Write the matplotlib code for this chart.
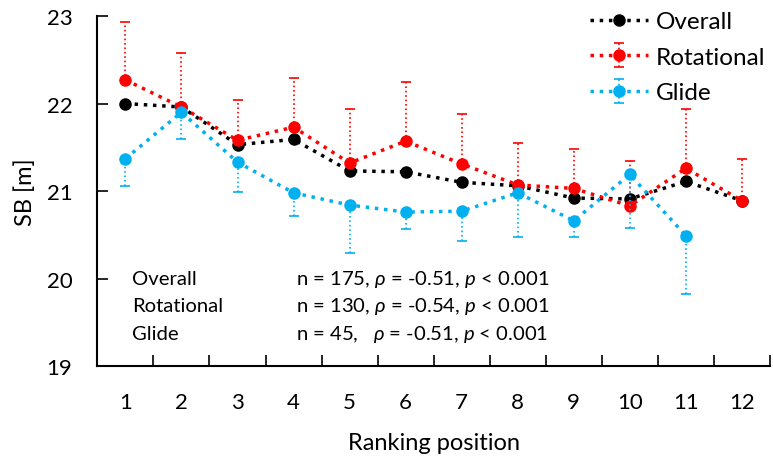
import numpy as np
import matplotlib
matplotlib.use("Agg")
import matplotlib.pyplot as plt

plt.rcParams['font.family'] = ['Lato', 'DejaVu Sans']
plt.rcParams['mathtext.fontset'] = 'custom'
plt.rcParams['mathtext.rm'] = 'Lato'
plt.rcParams['mathtext.it'] = 'Lato:italic'

positions = np.arange(1, 13)

overall = [22.00, 21.96, 21.53, 21.59, 21.23, 21.22, 21.10, 21.06, 20.92, 20.91, 21.11, 20.89]

rotational = [22.27, 21.96, 21.58, 21.73, 21.32, 21.57, 21.31, 21.07, 21.03, 20.83, 21.26, 20.89]
rotational_top = [22.93, 22.58, 22.04, 22.29, 21.94, 22.25, 21.88, 21.55, 21.48, 21.34, 21.94, 21.37]

glide = [21.37, 21.90, 21.33, 20.98, 20.84, 20.76, 20.77, 20.98, 20.66, 21.19, 20.49]
glide_bottom = [21.06, 21.59, 20.99, 20.71, 20.29, 20.57, 20.43, 20.47, 20.47, 20.58, 19.82]

stats_names = ["Overall", "Rotational", "Glide"]
stats_text = [r"n = 175, $\rho$ = -0.51, $p$ < 0.001",
              r"n = 130, $\rho$ = -0.54, $p$ < 0.001",
              r"n = 45,   $\rho$ = -0.51, $p$ < 0.001"]

fig = plt.figure(figsize=(7.73, 4.6), dpi=100)
ax = fig.add_axes([0.126, 0.202, 0.870, 0.761])

black = "#000000"
red = "#FF0000"
blue = "#00B0F0"

ax.plot(positions, overall, linestyle=':', color=black, lw=2.5, marker='o', ms=8, label="Overall", zorder=3)

r = np.array(rotational)
eb = ax.errorbar(positions, r, yerr=[np.zeros_like(r), np.array(rotational_top) - r],
                 linestyle=':', color=red, lw=2.5, marker='o', ms=8, ecolor=red,
                 elinewidth=1.2, capsize=3.5, capthick=1.2, label="Rotational", zorder=4)
eb[2][0].set_linestyle(':')

g = np.array(glide)
gx = positions[:len(glide)]
eb = ax.errorbar(gx, g, yerr=[g - np.array(glide_bottom), np.zeros_like(g)],
                 linestyle=':', color=blue, lw=2.5, marker='o', ms=8, ecolor=blue,
                 elinewidth=1.2, capsize=3.5, capthick=1.2, label="Glide", zorder=5)
eb[2][0].set_linestyle(':')

ax.set_xlim(0.5, 12.5)
ax.set_ylim(19, 23)
ax.set_yticks([19, 20, 21, 22, 23])
ax.set_xticks(positions)
ax.set_xticks(np.arange(0.5, 13, 1), minor=True)
ax.tick_params(axis='x', which='major', length=0, labelsize=16, pad=19)
ax.tick_params(axis='x', which='minor', length=8, width=1.2, direction='in')
ax.tick_params(axis='y', length=8, width=1.2, direction='in', labelsize=16, pad=18)

for s in ['top', 'right']:
    ax.spines[s].set_visible(False)
for s in ['left', 'bottom']:
    ax.spines[s].set_linewidth(1.5)

ax.set_xlabel("Ranking position", fontsize=17, labelpad=14)
ax.set_ylabel("SB [m]", fontsize=17, labelpad=8)

handles, labels = ax.get_legend_handles_labels()
leg = ax.legend(handles, labels, loc='upper left', bbox_to_anchor=(590 / 773, 1 - 12 / 460),
                bbox_transform=fig.transFigure, frameon=False, borderpad=0, borderaxespad=0,
                fontsize=17.5, handlelength=2.4, labelspacing=0.6, handletextpad=0.32)

for i in range(3):
    y = 0.25 - i * 0.078
    ax.text(0.052, y, stats_names[i], transform=ax.transAxes, fontsize=14.6, va='center')
    ax.text(0.296, y, stats_text[i], transform=ax.transAxes, fontsize=14.6, va='center')

fig.savefig("out.png", dpi=100)
